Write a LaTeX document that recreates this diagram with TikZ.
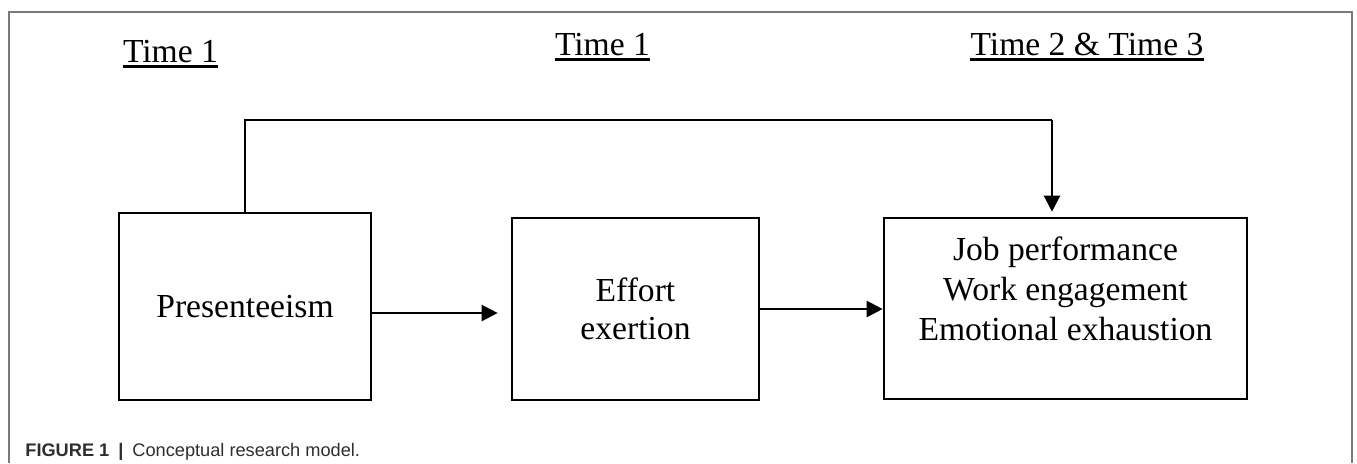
\documentclass[tikz,border=0pt]{standalone}
\usepackage{fontspec}
\setmainfont{Liberation Serif}
\newfontfamily\capfont{Liberation Sans}
\usetikzlibrary{arrows.meta,calc}
\definecolor{framegray}{HTML}{7A7A7A}
\definecolor{capgray}{HTML}{2E2E2E}
\begin{document}
\begin{tikzpicture}[x=0.5pt,y=-0.5pt,
  box/.style={draw, line width=1.3pt, inner sep=0pt, align=center,
              font=\fontsize{16.8}{19}\selectfont},
  conn/.style={line width=1.1pt, -{Triangle[length=8pt,width=8pt]}},
  fback/.style={line width=0.85pt},
  ttl/.style={anchor=base, inner sep=0pt, font=\fontsize{16.8}{19}\selectfont},
  uline/.style={line width=1.1pt},
  lbl/.style={inner sep=0pt, align=center, font=\fontsize{16.8}{20}\selectfont}]
\useasboundingbox (0,0) rectangle (1357,463);
% frame
\draw[framegray, line width=0.7pt] (9,463) -- (9,12) -- (1352,12) -- (1352,463);
% titles
\node[ttl] (t1) at (170.5,62) {Time 1};
\node[ttl] (t2) at (602.5,55) {Time 1};
\node[ttl] (t3) at (1087,55) {Time 2 \& Time 3};
\foreach \t in {t1,t2,t3}
  \draw[uline] ([yshift=-2.2pt]\t.base west) -- ([yshift=-2.2pt]\t.base east);
% boxes
\node[box, minimum width=126pt, minimum height=93.5pt] (pres) at (245,306.5) {Presenteeism};
\node[box, minimum width=123.5pt, minimum height=91pt] (eff) at (635.5,309) {Effort\\exertion};
\node[box, minimum width=181.5pt, minimum height=90.5pt] (out) at (1065.5,308.5) {};
\node[lbl] (outtxt) at (1065.5,288.5) {Job performance\\Work engagement\\Emotional exhaustion};
% connectors
\draw[conn, shorten >=6.5pt] ($(pres.east)+(0,6.5)$) -- ($(eff.west)+(0,4)$);
\draw[conn] (eff.east) -- (eff.east -| out.west);
\coordinate (fbx) at ($(out.north)+(-13.5,0)$);
\coordinate (fbtop) at (0,120);
\draw[fback] (pres.north) -- (pres.north |- fbtop) -- (fbx |- fbtop);
\draw[conn, shorten >=2.5pt] (fbx |- fbtop) -- (fbx);
% caption
\node[anchor=base west, inner sep=0pt, text=capgray, font=\capfont\fontsize{9.1}{11}\selectfont] (cap) at (25,456)
  {\textbf{FIGURE 1}\hspace{4.5pt}\textbf{|}\hspace{4.5pt}Conceptual research model.};
\end{tikzpicture}
\end{document}
